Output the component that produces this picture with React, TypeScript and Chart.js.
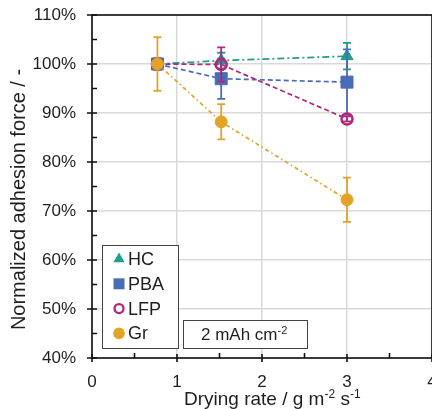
import React, { useEffect, useRef } from 'react';
import { Chart, registerables } from 'chart.js';
Chart.register(...registerables);

// ---------- data ----------
const xValues = [0.77, 1.52, 3.0];
const seriesNames = ['HC', 'PBA', 'LFP', 'Gr'];
const hcValues = [100, 100.7, 101.6];
const hcErrors = [1.2, 1.6, 2.7];
const pbaValues = [100, 97.0, 96.3];
const pbaErrors = [0.8, 4.1, 6.7];
const lfpValues = [100, 99.9, 88.8];
const lfpErrors = [0.8, 3.5, 0.5];
const grValues = [100, 88.2, 72.3];
const grErrors = [5.5, 3.6, 4.5];
const xTicks = [0, 1, 2, 3, 4];
const yTicks = [40, 50, 60, 70, 80, 90, 100, 110];
const annotationText = ['2 mAh cm', '-2'];
const xTitleParts = [['Drying rate / g m', false], ['-2', true], [' s', false], ['-1', true]] as [string, boolean][];
const yTitle = 'Normalized adhesion force / -';

// ---------- styles ----------
const FONT = '"Liberation Sans", Arial, sans-serif';
const TEXT = '#1e1e1e';
const colors = ['#1f9e89', '#4a6cb5', '#b0267f', '#e3a328'];
const pointStyles = ['triangle', 'rect', 'circle', 'circle'];
const pointRadii = [7, 8.5, 5.5, 6];
const dashes = [[7, 3, 2, 3], [5, 3], [5, 3], [4, 3, 1.5, 3]];
const valueSets = [hcValues, pbaValues, lfpValues, grValues];
const errorSets = [hcErrors, pbaErrors, lfpErrors, grErrors];

function drawRich(ctx: CanvasRenderingContext2D, parts: [string, boolean][], x: number, y: number, size: number, supSize: number) {
  let cx = x;
  ctx.textAlign = 'left';
  ctx.textBaseline = 'alphabetic';
  for (const [t, sup] of parts) {
    ctx.font = `${sup ? supSize : size}px ${FONT}`;
    ctx.fillText(t, cx, sup ? y - size * 0.38 : y);
    cx += ctx.measureText(t).width;
  }
}

function drawMarker(ctx: CanvasRenderingContext2D, i: number, x: number, y: number) {
  ctx.save();
  ctx.fillStyle = colors[i];
  ctx.strokeStyle = colors[i];
  ctx.beginPath();
  if (i === 0) {
    const r = 6.5;
    ctx.moveTo(x, y - r);
    ctx.lineTo(x + r * 0.866, y + r * 0.5);
    ctx.lineTo(x - r * 0.866, y + r * 0.5);
    ctx.closePath();
    ctx.fill();
  } else if (i === 1) {
    ctx.rect(x - 5.5, y - 5.5, 11, 11);
    ctx.fill();
  } else if (i === 2) {
    ctx.lineWidth = 2.3;
    ctx.arc(x, y, 4.5, 0, Math.PI * 2);
    ctx.stroke();
  } else {
    ctx.arc(x, y, 5.8, 0, Math.PI * 2);
    ctx.fill();
  }
  ctx.restore();
}

const decorPlugin = {
  id: 'decor',
  beforeDatasetDraw(chart: any, args: any) {
    const i = args.index;
    const errs = errorSets[i];
    const vals = valueSets[i];
    const ys = chart.scales.y;
    const ctx = chart.ctx as CanvasRenderingContext2D;
    ctx.save();
    ctx.strokeStyle = colors[i];
    ctx.lineWidth = 1.8;
    args.meta.data.forEach((pt: any, k: number) => {
      const x = pt.x;
      const yt = ys.getPixelForValue(vals[k] + errs[k]);
      const yb = ys.getPixelForValue(vals[k] - errs[k]);
      ctx.beginPath();
      ctx.moveTo(x, yt); ctx.lineTo(x, yb);
      ctx.moveTo(x - 4, yt); ctx.lineTo(x + 4, yt);
      ctx.moveTo(x - 4, yb); ctx.lineTo(x + 4, yb);
      ctx.stroke();
    });
    ctx.restore();
  },
  afterDraw(chart: any) {
    const ctx = chart.ctx as CanvasRenderingContext2D;
    const { left, right, top, bottom } = chart.chartArea;
    const xs = chart.scales.x;
    const ys = chart.scales.y;
    ctx.save();
    // frame
    ctx.strokeStyle = '#111';
    ctx.lineWidth = 1.6;
    ctx.strokeRect(left, top, right - left, bottom - top);
    // ticks
    ctx.beginPath();
    yTicks.forEach((v, k) => {
      const y = ys.getPixelForValue(v);
      ctx.moveTo(left - 5, y); ctx.lineTo(left + 5, y);
      if (k < yTicks.length - 1) {
        const ym = ys.getPixelForValue(v + 5);
        ctx.moveTo(left, ym); ctx.lineTo(left + 5, ym);
      }
    });
    xTicks.forEach((v, k) => {
      const x = xs.getPixelForValue(v);
      ctx.moveTo(x, bottom - 4); ctx.lineTo(x, bottom + 4);
      if (k < xTicks.length - 1) {
        const xm = xs.getPixelForValue(v + 0.5);
        ctx.moveTo(xm, bottom - 5); ctx.lineTo(xm, bottom);
      }
    });
    ctx.stroke();

    // legend box
    const lx = left + 10, ly = bottom - 113, lw = 76, lh = 103;
    ctx.fillStyle = '#fff';
    ctx.fillRect(lx, ly, lw, lh);
    ctx.strokeStyle = '#444';
    ctx.lineWidth = 1;
    ctx.strokeRect(lx + 0.5, ly + 0.5, lw, lh);
    seriesNames.forEach((name, i) => {
      const base = ly + 20 + i * 24.8;
      drawMarker(ctx, i, lx + 17, base - 6);
      ctx.fillStyle = TEXT;
      ctx.font = `18px ${FONT}`;
      ctx.textAlign = 'left';
      ctx.textBaseline = 'alphabetic';
      ctx.fillText(name, lx + 26, base);
    });

    // annotation box
    const ax = left + 91, ay = bottom - 38, aw = 124, ah = 28;
    ctx.fillStyle = '#fff';
    ctx.fillRect(ax, ay, aw, ah);
    ctx.strokeStyle = '#444';
    ctx.strokeRect(ax + 0.5, ay + 0.5, aw, ah);
    ctx.fillStyle = TEXT;
    drawRich(ctx, [[annotationText[0], false], [annotationText[1], true]], ax + 18, ay + 20, 17, 11);

    // x title
    ctx.fillStyle = TEXT;
    drawRich(ctx, xTitleParts, left + 92, bottom + 47, 19, 12);

    // y title
    ctx.save();
    ctx.translate(19, (top + bottom) / 2 + 13);
    ctx.rotate(-Math.PI / 2);
    ctx.font = `20px ${FONT}`;
    ctx.textAlign = 'center';
    ctx.textBaseline = 'middle';
    ctx.fillStyle = TEXT;
    ctx.fillText(yTitle, 0, 0);
    ctx.restore();

    ctx.restore();
  },
};

export default function App() {
  const ref = useRef<HTMLCanvasElement>(null);
  useEffect(() => {
    if (!ref.current) return;
    const datasets = seriesNames.map((name, i) => ({
      label: name,
      data: xValues.map((x, k) => ({ x, y: valueSets[i][k] })),
      showLine: true,
      borderColor: colors[i],
      backgroundColor: colors[i],
      borderWidth: 1.7,
      borderDash: dashes[i],
      pointStyle: pointStyles[i],
      pointRadius: pointRadii[i],
      pointBorderWidth: i === 2 ? 2.5 : 1,
      pointBorderColor: colors[i],
      pointBackgroundColor: i === 2 ? 'rgba(0,0,0,0)' : colors[i],
      order: 3 - i,
    }));
    const chart = new Chart(ref.current, {
      type: 'scatter',
      data: { datasets },
      options: {
        responsive: false,
        animation: false,
        devicePixelRatio: 1,
        layout: { padding: { left: 0, right: 28, top: 15, bottom: 0 } },
        plugins: { legend: { display: false }, tooltip: { enabled: false } },
        scales: {
          x: {
            type: 'linear',
            min: 0,
            max: 4,
            afterBuildTicks: (s: any) => { s.ticks = xTicks.map((v) => ({ value: v })); },
            afterFit: (s: any) => { s.height = 51; s.paddingLeft = 0; s.paddingRight = 0; },
            grid: { color: '#d9d9d9', lineWidth: 1.5, drawTicks: false },
            border: { display: false },
            ticks: { padding: 14, color: TEXT, font: { family: FONT, size: 17 }, maxRotation: 0 },
          },
          y: {
            type: 'linear',
            min: 40,
            max: 110,
            afterBuildTicks: (s: any) => { s.ticks = yTicks.map((v) => ({ value: v })); },
            afterFit: (s: any) => { s.width = 92; s.paddingTop = 0; s.paddingBottom = 0; },
            grid: { color: '#d9d9d9', lineWidth: 1.5, drawTicks: false },
            border: { display: false },
            ticks: { padding: 16, color: TEXT, font: { family: FONT, size: 17 }, callback: (v: any) => v + '%' },
          },
        },
      },
      plugins: [decorPlugin],
    } as any);
    return () => chart.destroy();
  }, []);
  return (
    <div style={{ position: 'fixed', left: 0, top: 0, width: 432, height: 409, overflow: 'hidden', background: '#fff' }}>
      <canvas ref={ref} width={460} height={409} style={{ display: 'block' }} />
    </div>
  );
}
